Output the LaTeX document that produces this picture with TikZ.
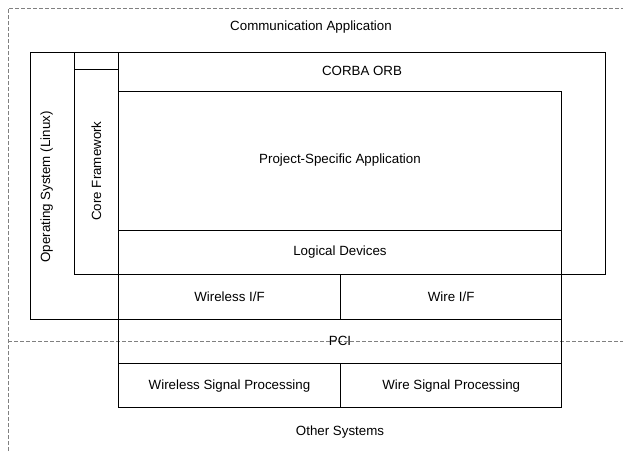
\documentclass[tikz,border=0pt]{standalone}
\usepackage{fontspec}
\setmainfont{Liberation Sans}
\usepackage{xcolor}

\begin{document}
\begin{tikzpicture}[x=0.75pt,y=0.75pt,yscale=-1,xscale=1,
  box/.style={draw={rgb, 255:red, 0; green, 0; blue, 0 },line width=0.75},
  region/.style={draw={rgb, 255:red, 128; green, 128; blue, 128 },line width=0.75,dash pattern={on 3pt off 1.5pt}},
  label/.style={inner sep=0.75pt,font=\fontsize{10}{12}\selectfont}]
\useasboundingbox (0,0) rectangle (623,451);

%Straight Lines [id:region_top]
\draw [region]   (8,451) -- (8,8) -- (623,8) ;
%Straight Lines [id:region_split]
\draw [region]   (8,341) -- (623,341) ;

%Shape: Rectangle [id:os]
\draw [box]   (30.5,52.3) -- (118.3,52.3) -- (118.3,319) -- (30.5,319) -- cycle ;
%Shape: Rectangle [id:cf]
\draw [box]   (74.5,52.3) -- (118.3,52.3) -- (118.3,274) -- (74.5,274) -- cycle ;
\draw [box]   (74.5,69) -- (118.3,69) ;
%Shape: Rectangle [id:orb]
\draw [box]   (118.3,52.3) -- (605.7,52.3) -- (605.7,274) -- (118.3,274) -- cycle ;
%Shape: Rectangle [id:psa]
\draw [box]   (118.3,91) -- (561.7,91) -- (561.7,230) -- (118.3,230) -- cycle ;
%Shape: Rectangle [id:ld]
\draw [box]   (118.3,230) -- (561.7,230) -- (561.7,274) -- (118.3,274) -- cycle ;
%Shape: Rectangle [id:iface]
\draw [box]   (118.3,274) -- (561.7,274) -- (561.7,319) -- (118.3,319) -- cycle ;
\draw [box]   (340.7,274) -- (340.7,319) ;
%Shape: Rectangle [id:pci]
\draw [box]   (118.3,319) -- (561.7,319) -- (561.7,363.5) -- (118.3,363.5) -- cycle ;
%Shape: Rectangle [id:sigproc]
\draw [box]   (118.3,363.5) -- (561.7,363.5) -- (561.7,407.7) -- (118.3,407.7) -- cycle ;
\draw [box]   (340.7,363.5) -- (340.7,407.7) ;

% Text Node
\draw (311,27) node [label] (commapp) {Communication Application};
% Text Node
\draw (46.8,187) node [label,rotate=90] (oslinux) {Operating System (Linux)};
% Text Node
\draw (96.4,171) node [label,rotate=90] (coreframe) {Core Framework};
% Text Node
\draw (362,71) node [label] (corba) {CORBA ORB};
% Text Node
\draw (340,160) node [label] (projapp) {Project-Specific Application};
% Text Node
\draw (340,252) node [label] (logdev) {Logical Devices};
% Text Node
\draw (229.5,296.5) node [label] (wirelessif) {Wireless I/F};
% Text Node
\draw (451.2,296.5) node [label] (wireif) {Wire I/F};
% Text Node
\draw (340,341) node [label] (pci) {PCI};
% Text Node
\draw (229.5,385.6) node [label] (wirelesssp) {Wireless Signal Processing};
% Text Node
\draw (451.2,385.6) node [label] (wiresp) {Wire Signal Processing};
% Text Node
\draw (340,432) node [label] (othersys) {Other Systems};

\end{tikzpicture}
\end{document}
